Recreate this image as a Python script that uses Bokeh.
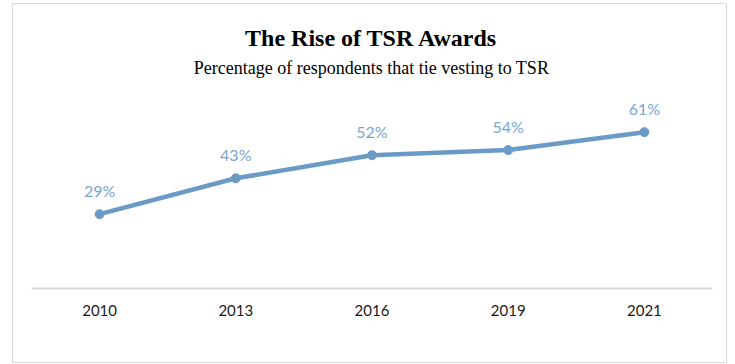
from bokeh.plotting import figure
from bokeh.models import ColumnDataSource, FactorRange, Range1d, Label, LabelSet
from bokeh.core.properties import value
from bokeh.embed import file_html
from bokeh.resources import INLINE

years = ["2010", "2013", "2016", "2019", "2021"]
values = [29, 43, 52, 54, 61]
value_labels = ["29%", "43%", "52%", "54%", "61%"]
title_text = "The Rise of TSR Awards"
subtitle_text = "Percentage of respondents that tie vesting to TSR"

source = ColumnDataSource(data=dict(year=years, value=values, label=value_labels))

LINE = "#6a9bc6"
LABEL = "#78a5cf"
NUM_FONT = "Lato"

p = figure(
    width=715, height=360,
    x_range=FactorRange(*years, range_padding=0),
    y_range=Range1d(0, 110.8),
    output_backend="svg", toolbar_location=None,
    min_border_left=18, min_border_right=16,
    min_border_top=0, min_border_bottom=76,
    margin=(3, 0, 0, 12),
)
p.styles = {"border": "1px solid #d9d9d9"}
p.outline_line_color = None
p.background_fill_color = "white"
p.border_fill_color = "white"
p.xgrid.visible = False
p.ygrid.visible = False
p.yaxis.visible = False

ax = p.xaxis[0]
ax.axis_line_color = "#d9d9d9"
ax.axis_line_width = 2
ax.major_tick_line_color = None
ax.minor_tick_line_color = None
ax.major_label_standoff = 10
ax.major_label_text_font = NUM_FONT
ax.major_label_text_font_size = "15px"
ax.major_label_text_color = "#1a1a1a"

p.line("year", "value", source=source, line_color=LINE, line_width=4.5)
p.scatter("year", "value", source=source, size=9, fill_color=LINE, line_color=LINE)

labels = LabelSet(x="year", y="value", text="label", source=source,
                  y_offset=17, text_align="center", text_baseline="alphabetic",
                  text_font=value(NUM_FONT), text_font_size=value("16px"),
                  text_color=value(LABEL))
p.add_layout(labels)

p.add_layout(Label(x=340, y=251, x_units="screen", y_units="screen",
                   text=title_text, text_align="center", text_baseline="alphabetic",
                   text_font="Liberation Serif", text_font_style="bold",
                   text_font_size="24px", text_color="#000000"))
p.add_layout(Label(x=340, y=221, x_units="screen", y_units="screen",
                   text=subtitle_text, text_align="center", text_baseline="alphabetic",
                   text_font="Liberation Serif", text_font_size="18px",
                   text_color="#000000"))

open("out.html", "w").write(file_html(p, INLINE))
